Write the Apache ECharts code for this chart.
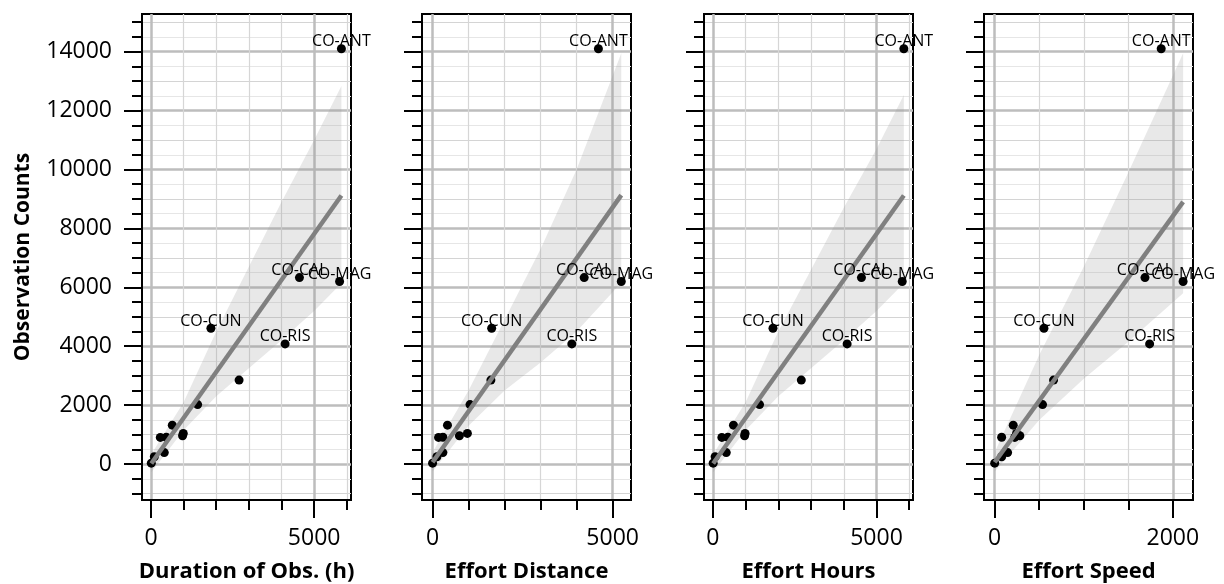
<!DOCTYPE html>
<html>
<head>
<meta charset="utf-8">
<script src="https://cdn.jsdelivr.net/npm/echarts@6/dist/echarts.min.js"></script>
<style>
  html, body { margin: 0; padding: 0; background: #fff; }
  #chart { width: 1224px; height: 584px; }
</style>
</head>
<body>
<div id="chart"></div>
<script>
// sites (only the big ones are labelled)
const siteNames = ['CO-ANT', 'CO-CAL', 'CO-MAG', 'CO-CUN', 'CO-RIS', '', '', '', '', '', '', '', '', '', '']
const obsCounts = [14100, 6330, 6200, 4610, 4080, 2850, 2020, 1320, 960, 1040, 910, 905, 390, 250, 30]

const durationHours = [5836, 4550, 5780, 1837, 4110, 2700, 1430, 653, 968, 990, 470, 286, 408, 102, 10]
const effortDistance = [4605, 4210, 5240, 1641, 3867, 1620, 1040, 414, 746, 967, 287, 166, 287, 122, 0]
const effortHours = [5835, 4540, 5786, 1837, 4102, 2703, 1427, 630, 970, 985, 459, 275, 410, 70, 10]
const effortSpeed = [1869, 1687, 2115, 553, 1739, 661, 537, 208, 282, 245, 78, 225, 145, 78, 0]

// fitted lines (end points) and confidence bands
const fitDurX = [10, 5836]
const fitDurY = [20, 9120]
const bandDurX = [10, 1000, 2000, 3000, 4000, 5000, 5836]
const bandDurLo = [-280, 1150, 2300, 3250, 4200, 5200, 6140]
const bandDurHi = [330, 2100, 4500, 6700, 8900, 11000, 12835]

const fitDistX = [0, 5240]
const fitDistY = [60, 9130]
const bandDistX = [0, 1000, 2000, 3000, 4000, 5240]
const bandDistLo = [-250, 1300, 2500, 3450, 4500, 6156]
const bandDistHi = [400, 2500, 4900, 7300, 10000, 13945]

const fitHrsX = [10, 5835]
const fitHrsY = [20, 9120]
const bandHrsX = [10, 1000, 2000, 3000, 4000, 5000, 5835]
const bandHrsLo = [-280, 1150, 2300, 3250, 4200, 5200, 6140]
const bandHrsHi = [330, 2100, 4500, 6600, 8700, 10700, 12530]

const fitSpdX = [0, 2115]
const fitSpdY = [60, 8900]
const bandSpdX = [0, 500, 1000, 1500, 2115]
const bandSpdLo = [-250, 1500, 2900, 4150, 5796]
const bandSpdHi = [400, 3700, 6700, 9900, 13945]

// axis ticks
const yMajorTicks = [0, 2000, 4000, 6000, 8000, 10000, 12000, 14000]
const yMidTicks = [-1000, 1000, 3000, 5000, 7000, 9000, 11000, 13000, 15000]
const yMinorTicks = [-500, 500, 1500, 2500, 3500, 4500, 5500, 6500, 7500, 8500, 9500, 10500, 11500, 12500, 13500, 14500]
const xMajorHours = [0, 5000]
const xMinorHours = [1000, 2000, 3000, 4000, 6000]
const xMajorSpeed = [0, 2000]
const xMinorSpeed = [500, 1000, 1500]

const FONT = 'Open Sans'

const panels = [
  { title: 'Duration of Obs. (h)', xs: durationHours, min: -275, max: 6130, major: xMajorHours, minor: xMinorHours,
    fitX: fitDurX, fitY: fitDurY, bandX: bandDurX, bandLo: bandDurLo, bandHi: bandDurHi },
  { title: 'Effort Distance', xs: effortDistance, min: -293, max: 5510, major: xMajorHours, minor: xMinorHours,
    fitX: fitDistX, fitY: fitDistY, bandX: bandDistX, bandLo: bandDistLo, bandHi: bandDistHi },
  { title: 'Effort Hours', xs: effortHours, min: -270, max: 6115, major: xMajorHours, minor: xMinorHours,
    fitX: fitHrsX, fitY: fitHrsY, bandX: bandHrsX, bandLo: bandHrsLo, bandHi: bandHrsHi },
  { title: 'Effort Speed', xs: effortSpeed, min: -120, max: 2226, major: xMajorSpeed, minor: xMinorSpeed,
    fitX: fitSpdX, fitY: fitSpdY, bandX: bandSpdX, bandLo: bandSpdLo, bandHi: bandSpdHi }
]
const gridLefts = [142, 422, 704, 984]

const chart = echarts.init(document.getElementById('chart'))

const grid = []
const xAxis = []
const yAxis = []
const series = []
const plain = (v) => String(v)

panels.forEach((p, i) => {
  grid.push({
    left: gridLefts[i], top: 14, width: 209, height: 486,
    outerBoundsMode: 'none', containLabel: false,
    show: true, borderColor: '#000', borderWidth: 2, backgroundColor: 'transparent'
  })
  // major x axis (labels + long ticks + thick grid)
  xAxis.push({
    type: 'value', gridIndex: i, min: p.min, max: p.max, position: 'bottom',
    name: p.title, nameLocation: 'middle', nameGap: 61,
    nameTextStyle: { fontFamily: FONT, fontWeight: 'bold', fontSize: 22, color: '#000' },
    axisLine: { show: true, onZero: false, lineStyle: { color: '#000', width: 2 } },
    axisTick: { show: true, customValues: p.major, length: 18, lineStyle: { color: '#000', width: 2 } },
    axisLabel: { customValues: p.major, formatter: plain, margin: 27, fontFamily: FONT, fontSize: 23, color: '#000' },
    splitLine: { show: true, lineStyle: { color: '#bdbdbd', width: 2.5 } }
  })
  // minor x axis
  xAxis.push({
    type: 'value', gridIndex: i, min: p.min, max: p.max, position: 'bottom',
    axisLine: { show: false, onZero: false },
    axisTick: { show: true, customValues: p.minor, length: 10, lineStyle: { color: '#000', width: 2 } },
    axisLabel: { show: false },
    splitLine: { show: true, lineStyle: { color: '#d6d6d6', width: 1.2 } }
  })
  yAxis.push({
    type: 'value', gridIndex: i, min: -1220, max: 15280, position: 'left',
    name: i === 0 ? 'Observation Counts' : '', nameLocation: 'middle', nameGap: 108,
    nameTextStyle: { fontFamily: FONT, fontWeight: 'bold', fontSize: 21, color: '#000' },
    axisLine: { show: true, onZero: false, lineStyle: { color: '#000', width: 2 } },
    axisTick: { show: true, customValues: yMajorTicks, length: 18, lineStyle: { color: '#000', width: 2 } },
    axisLabel: { show: i === 0, customValues: yMajorTicks, formatter: plain, margin: 30, fontFamily: FONT, fontSize: 23, color: '#000' },
    splitLine: { show: true, lineStyle: { color: '#bdbdbd', width: 2.5 } }
  })
  yAxis.push({
    type: 'value', gridIndex: i, min: -1220, max: 15280, position: 'left',
    axisLine: { show: false, onZero: false },
    axisTick: { show: true, customValues: yMidTicks, length: 10, lineStyle: { color: '#000', width: 2 } },
    axisLabel: { show: false },
    splitLine: { show: true, lineStyle: { color: '#d4d4d4', width: 1.2 } }
  })
  yAxis.push({
    type: 'value', gridIndex: i, min: -1220, max: 15280, position: 'left',
    axisLine: { show: false, onZero: false },
    axisTick: { show: true, customValues: yMinorTicks, length: 10, lineStyle: { color: '#000', width: 2 } },
    axisLabel: { show: false },
    splitLine: { show: true, lineStyle: { color: '#e6e6e6', width: 1.2 } }
  })

  const xi = i * 2
  const yi = i * 3

  // confidence band
  series.push({
    type: 'custom', xAxisIndex: xi, yAxisIndex: yi, z: 1, silent: true,
    data: p.bandX.map((x, k) => [x, p.bandLo[k], p.bandHi[k]]),
    renderItem(params, api) {
      if (params.dataIndex !== 0) return
      const upper = p.bandX.map((x, k) => api.coord([x, p.bandHi[k]]))
      const lower = p.bandX.map((x, k) => api.coord([x, p.bandLo[k]])).reverse()
      return {
        type: 'polygon',
        shape: { points: upper.concat(lower) },
        style: { fill: 'rgba(150,150,150,0.22)' }
      }
    }
  })
  // points
  series.push({
    type: 'scatter', xAxisIndex: xi, yAxisIndex: yi, z: 2,
    symbolSize: 9, itemStyle: { color: '#000', opacity: 1 },
    data: p.xs.map((x, k) => [x, obsCounts[k]])
  })
  // fitted line
  series.push({
    type: 'line', xAxisIndex: xi, yAxisIndex: yi, z: 3,
    symbol: 'none', lineStyle: { color: '#808080', width: 4.5 },
    data: p.fitX.map((x, k) => [x, p.fitY[k]])
  })
  // site labels
  series.push({
    type: 'scatter', xAxisIndex: xi, yAxisIndex: yi, z: 4,
    symbolSize: 0, itemStyle: { opacity: 1 },
    label: {
      show: true, position: 'inside', offset: [0, -7],
      formatter: (d) => d.data[2],
      fontFamily: FONT, fontSize: 16, color: '#000', textBorderWidth: 0
    },
    data: p.xs.map((x, k) => [x, obsCounts[k], siteNames[k]]).filter(d => d[2] !== '')
  })
})

chart.setOption({
  animation: false,
  backgroundColor: '#fff',
  grid,
  xAxis,
  yAxis,
  series
})
</script>
</body>
</html>
